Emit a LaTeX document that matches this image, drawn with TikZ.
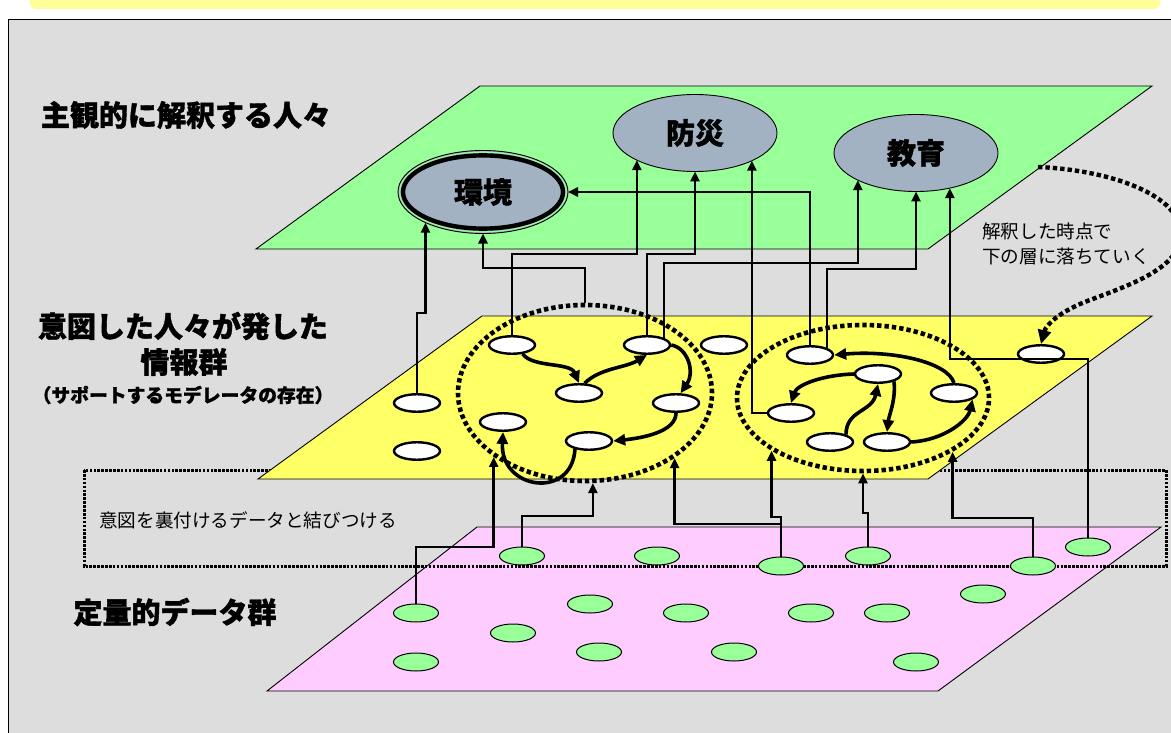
\documentclass[tikz,border=0pt]{standalone}
\usepackage{fontspec}
\newfontfamily\jp{Noto Sans CJK JP}
\newfontfamily\jpheavy[FakeBold=1.3]{Noto Sans CJK JP}
\usetikzlibrary{arrows.meta,shapes.geometric}
\pgfdeclarelayer{planes}
\pgfdeclarelayer{links}
\pgfsetlayers{planes,links,main}
\definecolor{bggray}{HTML}{DDDDDD}
\definecolor{topgreen}{HTML}{99FF99}
\definecolor{midyellow}{HTML}{FFFF66}
\definecolor{botpink}{HTML}{FFCCFF}
\definecolor{topicfill}{HTML}{A3B2C3}
\definecolor{stripyellow}{HTML}{FFFF99}
\definecolor{dotgreen}{HTML}{99FF99}
\begin{document}
\begin{tikzpicture}[x=1pt,y=-1pt,
  plane/.style={draw=black, line width=0.9pt},
  topic/.style={ellipse, fill=topicfill, draw=black, line width=0.9pt, inner sep=0pt, outer sep=0pt,
    font=\jpheavy\bfseries\fontsize{29}{32}\selectfont},
  msg/.style={ellipse, draw=black, fill=white, line width=2.4pt, minimum width=46pt, minimum height=17.5pt, inner sep=0pt},
  dat/.style={ellipse, draw=black, fill=dotgreen, line width=1pt, minimum width=45pt, minimum height=18pt, inner sep=0pt},
  grp/.style={ellipse, draw=black, line width=4.6pt, dash pattern=on 4.4pt off 3pt, inner sep=0pt},
  link/.style={draw=black, line width=2.4pt, -{Triangle[length=10pt,width=9pt]}},
  flow/.style={draw=black, line width=3.6pt, -{Triangle[length=12pt,width=11pt]}},
  heading/.style={font=\jpheavy\bfseries\fontsize{29}{32}\selectfont},
  note/.style={font=\jp\fontsize{18.6}{22}\selectfont}
]
\useasboundingbox (0,0) rectangle (1171,733);

\begin{pgfonlayer}{planes}
  \fill[white] (0,0) rectangle (1171,733);
  \fill[stripyellow, rounded corners=6pt] (30,-10) rectangle (1160,9);
  \filldraw[fill=bggray, draw=black, line width=1.8pt] (8.5,19.5) rectangle (1185,745);
  \filldraw[plane, fill=botpink] (477,527) -- (1161,527) -- (938,691) -- (267,691) -- cycle;
  \draw[line width=3pt, dash pattern=on 2.6pt off 1.3pt] (84,470) rectangle (1166,566);
  \filldraw[plane, fill=midyellow] (482,316) -- (1152,316) -- (928,479) -- (258,479) -- cycle;
  \filldraw[plane, fill=topgreen] (480,86) -- (1152,86) -- (928,249) -- (256,249) -- cycle;
  \node[grp, minimum width=254pt, minimum height=176pt] (cl) at (585,393) {};
  \node[grp, minimum width=252pt, minimum height=146pt] (cr) at (863,398) {};
\end{pgfonlayer}

% top layer topics
\node[topic, minimum width=170pt, minimum height=83pt] (k) at (483,192) {環境};
\draw[topgreen, line width=1pt] (k.center) ellipse [x radius=83.3pt, y radius=39.8pt];
\draw[line width=4.4pt] (k.center) ellipse [x radius=80pt, y radius=36.6pt];
\node[topic, minimum width=164pt, minimum height=77pt] (b) at (695,133) {防災};
\node[topic, minimum width=164pt, minimum height=77pt] (e) at (916,153) {教育};

% middle layer messages
\node[msg] (ya) at (512,345) {};
\node[msg] (yb) at (647,345) {};
\node[msg] (yc) at (724,345) {};
\node[msg] (yd) at (579,393) {};
\node[msg] (ye) at (417,403) {};
\node[msg] (yf) at (676,403) {};
\node[msg] (yg) at (503,422) {};
\node[msg] (yh) at (589,441) {};
\node[msg] (yi) at (417,451) {};
\node[msg] (yj) at (810,355) {};
\node[msg] (yk) at (878,374) {};
\node[msg] (yl) at (954,393) {};
\node[msg] (ym) at (791,413) {};
\node[msg] (yn) at (830,442) {};
\node[msg] (yo) at (887,442) {};
\node[msg] (yp) at (1041,354) {};

% bottom layer data
\node[dat] (pa) at (522,556) {};
\node[dat] (pb) at (657,556) {};
\node[dat] (pc) at (781,566) {};
\node[dat] (pd) at (868,556) {};
\node[dat] (pe) at (1033,566) {};
\node[dat] (pf) at (1088,547) {};
\node[dat] (pg) at (416,613) {};
\node[dat] (ph) at (513,633) {};
\node[dat] (pi) at (590,604) {};
\node[dat] (pj) at (686,613) {};
\node[dat] (pk) at (811,613) {};
\node[dat] (pl) at (887,613) {};
\node[dat] (pm) at (983,594) {};
\node[dat] (pn) at (416,662) {};
\node[dat] (po) at (599,652) {};
\node[dat] (pp) at (734,652) {};
\node[dat] (pq) at (916,662) {};

\begin{pgfonlayer}{links}
  % middle -> top
  \draw[link] (ye.center) |- (k.208 |- 0,313) -- (k.208);
  \draw[link] (cl.north) |- (k.south |- 0,268) -- (k.south);
  \draw[link] (ya.center) |- (b.205.6 |- 0,254) -- (b.205.6);
  \draw[link] (yb.center) |- (b.south |- 0,254) -- (b.south);
  \draw[link] ([xshift=17pt]yb.center) |- (e.205.6 |- 0,263) -- (e.205.6);
  \draw[link] (yj.center) |- (k.east);
  \draw[link] ([xshift=17pt]yj.center) |- (e.south |- 0,269) -- (e.south);
  \draw[link] (ym.center) -| (b.334.4);
  % bottom -> middle
  \draw[link] (pg.center) |- (cl.215.2 |- 0,547) -- (cl.215.2);
  \draw[link] (pa.center) |- (cl.275 |- 0,516) -- (cl.275);
  \draw[link] (pc.center) |- (cl.324.2 |- 0,524) -- (cl.324.2);
  \draw[link] (pc.center) |- (cr.210.7 |- 0,517) -- (cr.210.7);
  \draw[link] (pd.center) |- (cr.south |- 0,513) -- (cr.south);
  \draw[link] (pe.center) |- (cr.329.8 |- 0,518) -- (cr.329.8);
\end{pgfonlayer}

\draw[link] (pf.north) |- (e.314.5 |- 0,359) -- (e.314.5);

% flows inside groups
\draw[flow] (ya.-40) .. controls (533,368) and (570,362) .. (yd.north);
\draw[flow] (yd.60) .. controls (600,368) and (625,368) .. (yb.south);
\draw[flow] (yb.east) .. controls (688,348) and (695,372) .. (yf.65);
\draw[flow] (yf.south) .. controls (676,432) and (642,438) .. (yh.east);
\draw[flow] (yh.-150) .. controls (572,500) and (500,490) .. (yg.south);
\draw[flow] (yl.north) .. controls (948,362) and (892,350) .. (yj.east);
\draw[flow] (yk.west) .. controls (822,375) and (797,385) .. (ym.north);
\draw[flow] (yn.25) .. controls (846,410) and (872,412) .. (yk.south);
\draw[flow] (yk.-25) .. controls (896,400) and (889,415) .. (yo.north);
\draw[flow] (yo.east) .. controls (945,440) and (968,420) .. (yl.-19);

% falling-down dotted arrow
\coordinate (ds) at (1038,167);
\draw[line width=4.4pt, dash pattern=on 4.4pt off 3pt, -{Triangle[length=14pt,width=13pt]}]
  (ds) .. controls (1110,170) and (1182,195) .. (1181,235)
  .. controls (1180,268) and (1130,285) .. (1090,300)
  .. controls (1060,311) and (1046,325) .. (yp.north);

% texts
\node[heading] (h1) at (186,115) {主観的に解釈する人々};
\node[heading] (h2) at (183,326) {意図した人々が発した};
\node[heading] (h3) at (184,362) {情報群};
\node[font=\jpheavy\bfseries\fontsize{18.8}{20}\selectfont] (h4) at (183,395) {（サポートするモデレータの存在）};
\node[heading] (h5) at (175,612) {定量的データ群};
\node[note, anchor=west, inner sep=0pt] (n1) at (99,520) {意図を裏付けるデータと結びつける};
\node[note, anchor=west, inner sep=0pt] (n2) at (982,231) {解釈した時点で};
\node[note, anchor=west, inner sep=0pt] (n3) at (982,256) {下の層に落ちていく};
\end{tikzpicture}
\end{document}
